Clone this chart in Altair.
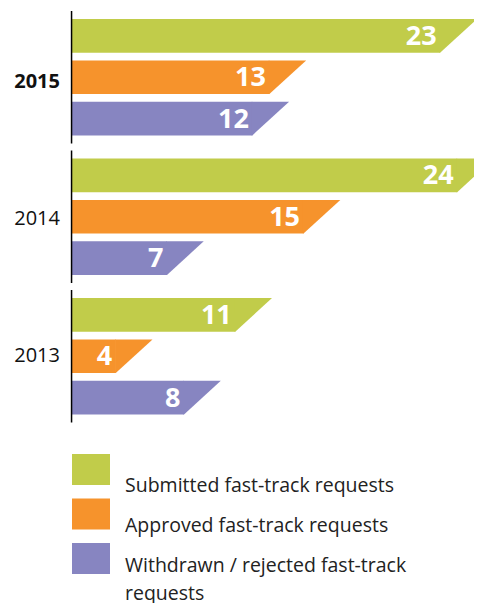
import altair as alt
import pandas as pd

years = ["2015", "2014", "2013"]
series = [
    "Submitted fast-track requests",
    "Approved fast-track requests",
    "Withdrawn / rejected fast-track requests",
]
legend_labels = [
    "Submitted fast-track requests",
    "Approved fast-track requests",
    "Withdrawn / rejected fast-track\nrequests",
]
submitted = [23, 24, 11]
approved = [13, 15, 4]
withdrawn = [12, 7, 8]
colors = ["#C1CC4A", "#F6932C", "#8785C1"]

rows = []
for i, yr in enumerate(years):
    for s, vals in zip(series, [submitted, approved, withdrawn]):
        rows.append({"year": yr, "series": s, "value": vals[i]})
df = pd.DataFrame(rows)
axis_df = pd.DataFrame({"year": years})
leg_df = pd.DataFrame({"series": series, "label": legend_labels})

PX_PER_UNIT = 17.07
W = 402
H_TOTAL = 592
BAR_H = 33.52

xscale = alt.Scale(domain=[0, W / PX_PER_UNIT], nice=False, zero=True)
yscale = alt.Scale(domain=years, range=[0, 411.5], paddingInner=0.0502, paddingOuter=0)
yoff = alt.Scale(domain=series, paddingInner=0.19, paddingOuter=0.196)
cscale = alt.Scale(domain=series, range=colors)
ly = alt.Scale(domain=series, range=[443, 563], paddingInner=0.303, paddingOuter=0)
FONT = "Open Sans"

base = alt.Chart(df).encode(
    y=alt.Y("year:N", scale=yscale, axis=None),
    yOffset=alt.YOffset("series:N", scale=yoff),
)

rect = base.mark_bar(xOffset=-24.5).encode(
    x=alt.X("value:Q", scale=xscale, axis=None),
    x2=alt.datum(0),
    color=alt.Color("series:N", scale=cscale, legend=None),
)

tri = base.mark_point(
    shape="M-1.5,-1L0.73,-1L-1.463,1L-1.5,1Z",
    size=BAR_H * BAR_H,
    filled=True,
    opacity=1,
    strokeWidth=0,
).encode(
    x=alt.X("value:Q", scale=xscale),
    color=alt.Color("series:N", scale=cscale, legend=None),
)

vals = base.mark_text(
    align="right", baseline="middle", dx=-28, dy=1,
    fontSize=27, fontWeight="bold", color="white", font=FONT,
).encode(
    x=alt.X("value:Q", scale=xscale),
    text="value:Q",
)

seg = alt.Chart(axis_df).mark_rect(color="black").encode(
    y=alt.Y("year:N", scale=yscale, axis=None),
    x=alt.value(-1.2),
    x2=alt.value(0.3),
)

yr_base = alt.Chart(axis_df).encode(
    y=alt.Y("year:N", scale=yscale, axis=None),
    x=alt.value(-12),
    text="year:N",
)
yr_bold = yr_base.transform_filter("datum.year == '2015'").mark_text(
    align="right", baseline="middle", dy=2, fontSize=20, font=FONT,
    fontWeight="bold", color="#111111",
)
yr_norm = yr_base.transform_filter("datum.year != '2015'").mark_text(
    align="right", baseline="middle", dy=2, fontSize=20, font=FONT,
    color="#111111",
)

leg_sq = alt.Chart(leg_df).mark_rect().encode(
    y=alt.Y("series:N", scale=ly, axis=None),
    x=alt.value(0),
    x2=alt.value(38),
    color=alt.Color("series:N", scale=cscale, legend=None),
)
leg_tx = alt.Chart(leg_df).mark_text(
    align="left", baseline="alphabetic", dy=18, fontSize=19.5, font=FONT,
    lineBreak="\n", lineHeight=28, color="#222222",
).encode(
    y=alt.Y("series:N", scale=ly, axis=None),
    x=alt.value(53),
    text="label:N",
)

chart = alt.layer(
    rect, tri, vals, seg, yr_bold, yr_norm, leg_sq, leg_tx
).resolve_scale(y="independent").properties(
    width=W,
    height=H_TOTAL,
    autosize=alt.AutoSizeParams(type="none"),
    padding={"left": 64, "top": 3, "right": 0, "bottom": 0},
).configure_view(stroke=None)

chart.save("out.html", embed_options={"renderer": "svg", "actions": False})
